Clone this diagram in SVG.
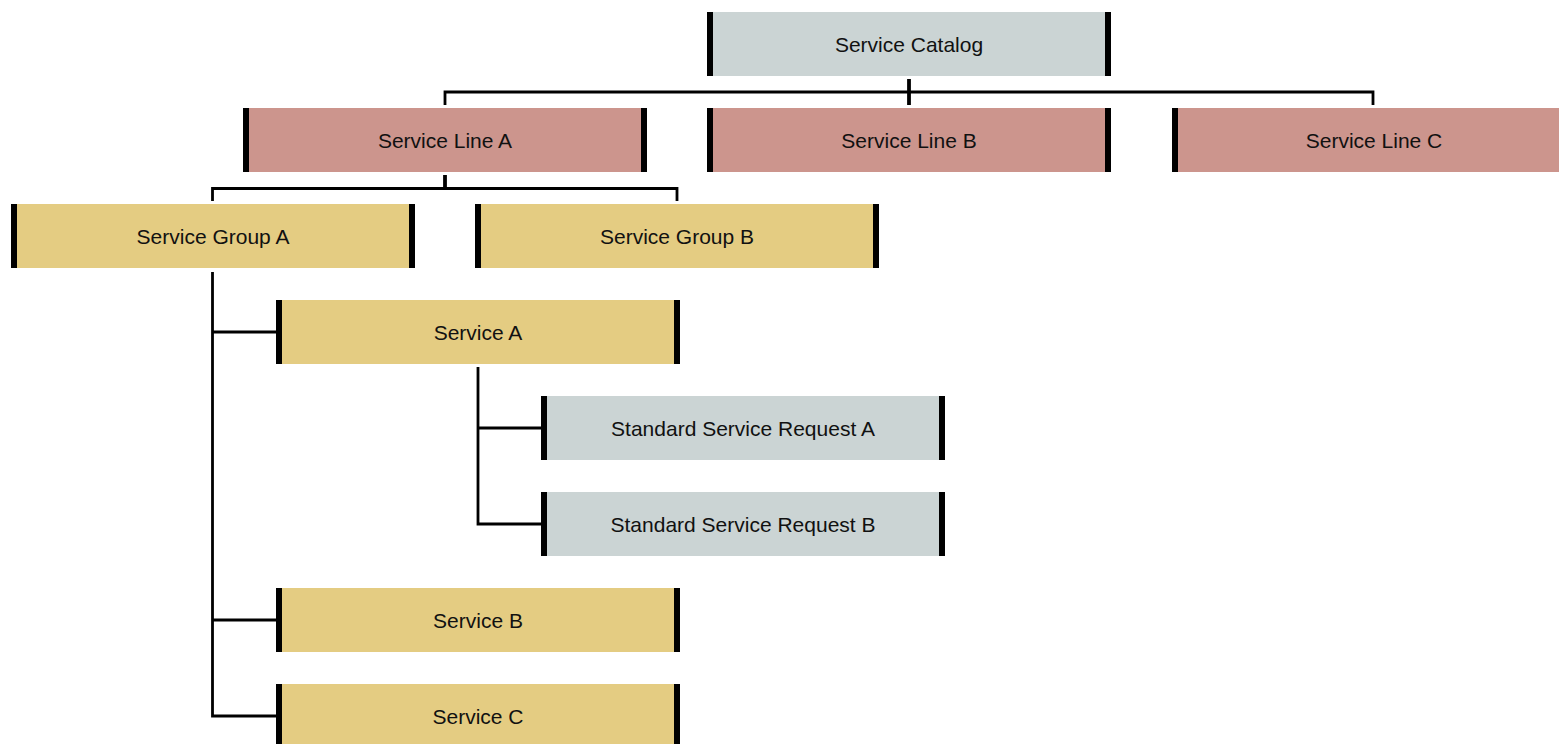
<svg xmlns="http://www.w3.org/2000/svg" width="1559" height="744" viewBox="0 0 1559 744">
  <style>
    .fill-grey { fill: #CBD4D4; }
    .fill-rose { fill: #CC958D; }
    .fill-gold { fill: #E4CC82; }
    .bar { fill: #000000; }
    .label { font-family: "Liberation Sans", Arial, sans-serif; font-size: 21px; fill: #111111; text-anchor: middle; dominant-baseline: central; }
    .link { fill: none; stroke: #000000; stroke-width: 2.8; stroke-linejoin: miter; stroke-linecap: butt; }
    .stub { fill: none; stroke: #000000; stroke-width: 3.8; }
  </style>
  <defs>
    <!-- a card: fill with a black bar at each end -->
    <g id="bars">
      <rect class="bar" x="0" y="0" width="6" height="64"/>
      <rect class="bar" x="398" y="0" width="6" height="64"/>
    </g>
  </defs>

  <g id="connectors">
    <!-- catalog to service lines -->
    <path class="stub" d="M909 79 V105"/>
    <path class="link" d="M445 105 V92 H1373 V105"/>
    <!-- service line A to service groups -->
    <path class="stub" d="M445 175 V189"/>
    <path class="link" d="M212.5 201 V188.5 H677 V201"/>
    <!-- service group A to services -->
    <path class="link" d="M212.5 272 V716 H276"/>
    <path class="link" d="M212.5 332 H276"/>
    <path class="link" d="M212.5 620 H276"/>
    <!-- service A to standard requests -->
    <path class="link" d="M478 367 V524 H541"/>
    <path class="link" d="M478 428 H541"/>
  </g>

  <g id="service-catalog" transform="translate(707 12)">
    <rect class="fill-grey" width="404" height="64"/>
    <use href="#bars"/>
    <text class="label" x="202" y="32">Service Catalog</text>
  </g>

  <g id="service-line-a" transform="translate(243 108)">
    <rect class="fill-rose" width="404" height="64"/>
    <use href="#bars"/>
    <text class="label" x="202" y="32">Service Line A</text>
  </g>
  <g id="service-line-b" transform="translate(707 108)">
    <rect class="fill-rose" width="404" height="64"/>
    <use href="#bars"/>
    <text class="label" x="202" y="32">Service Line B</text>
  </g>
  <g id="service-line-c" transform="translate(1172 108)">
    <rect class="fill-rose" width="404" height="64"/>
    <use href="#bars"/>
    <text class="label" x="202" y="32">Service Line C</text>
  </g>

  <g id="service-group-a" transform="translate(11 204)">
    <rect class="fill-gold" width="404" height="64"/>
    <use href="#bars"/>
    <text class="label" x="202" y="32">Service Group A</text>
  </g>
  <g id="service-group-b" transform="translate(475 204)">
    <rect class="fill-gold" width="404" height="64"/>
    <use href="#bars"/>
    <text class="label" x="202" y="32">Service Group B</text>
  </g>

  <g id="service-a" transform="translate(276 300)">
    <rect class="fill-gold" width="404" height="64"/>
    <use href="#bars"/>
    <text class="label" x="202" y="32">Service A</text>
  </g>

  <g id="standard-request-a" transform="translate(541 396)">
    <rect class="fill-grey" width="404" height="64"/>
    <use href="#bars"/>
    <text class="label" x="202" y="32">Standard Service Request A</text>
  </g>
  <g id="standard-request-b" transform="translate(541 492)">
    <rect class="fill-grey" width="404" height="64"/>
    <use href="#bars"/>
    <text class="label" x="202" y="32">Standard Service Request B</text>
  </g>

  <g id="service-b" transform="translate(276 588)">
    <rect class="fill-gold" width="404" height="64"/>
    <use href="#bars"/>
    <text class="label" x="202" y="32">Service B</text>
  </g>
  <g id="service-c" transform="translate(276 684)">
    <rect class="fill-gold" width="404" height="64"/>
    <use href="#bars"/>
    <text class="label" x="202" y="32">Service C</text>
  </g>
</svg>
